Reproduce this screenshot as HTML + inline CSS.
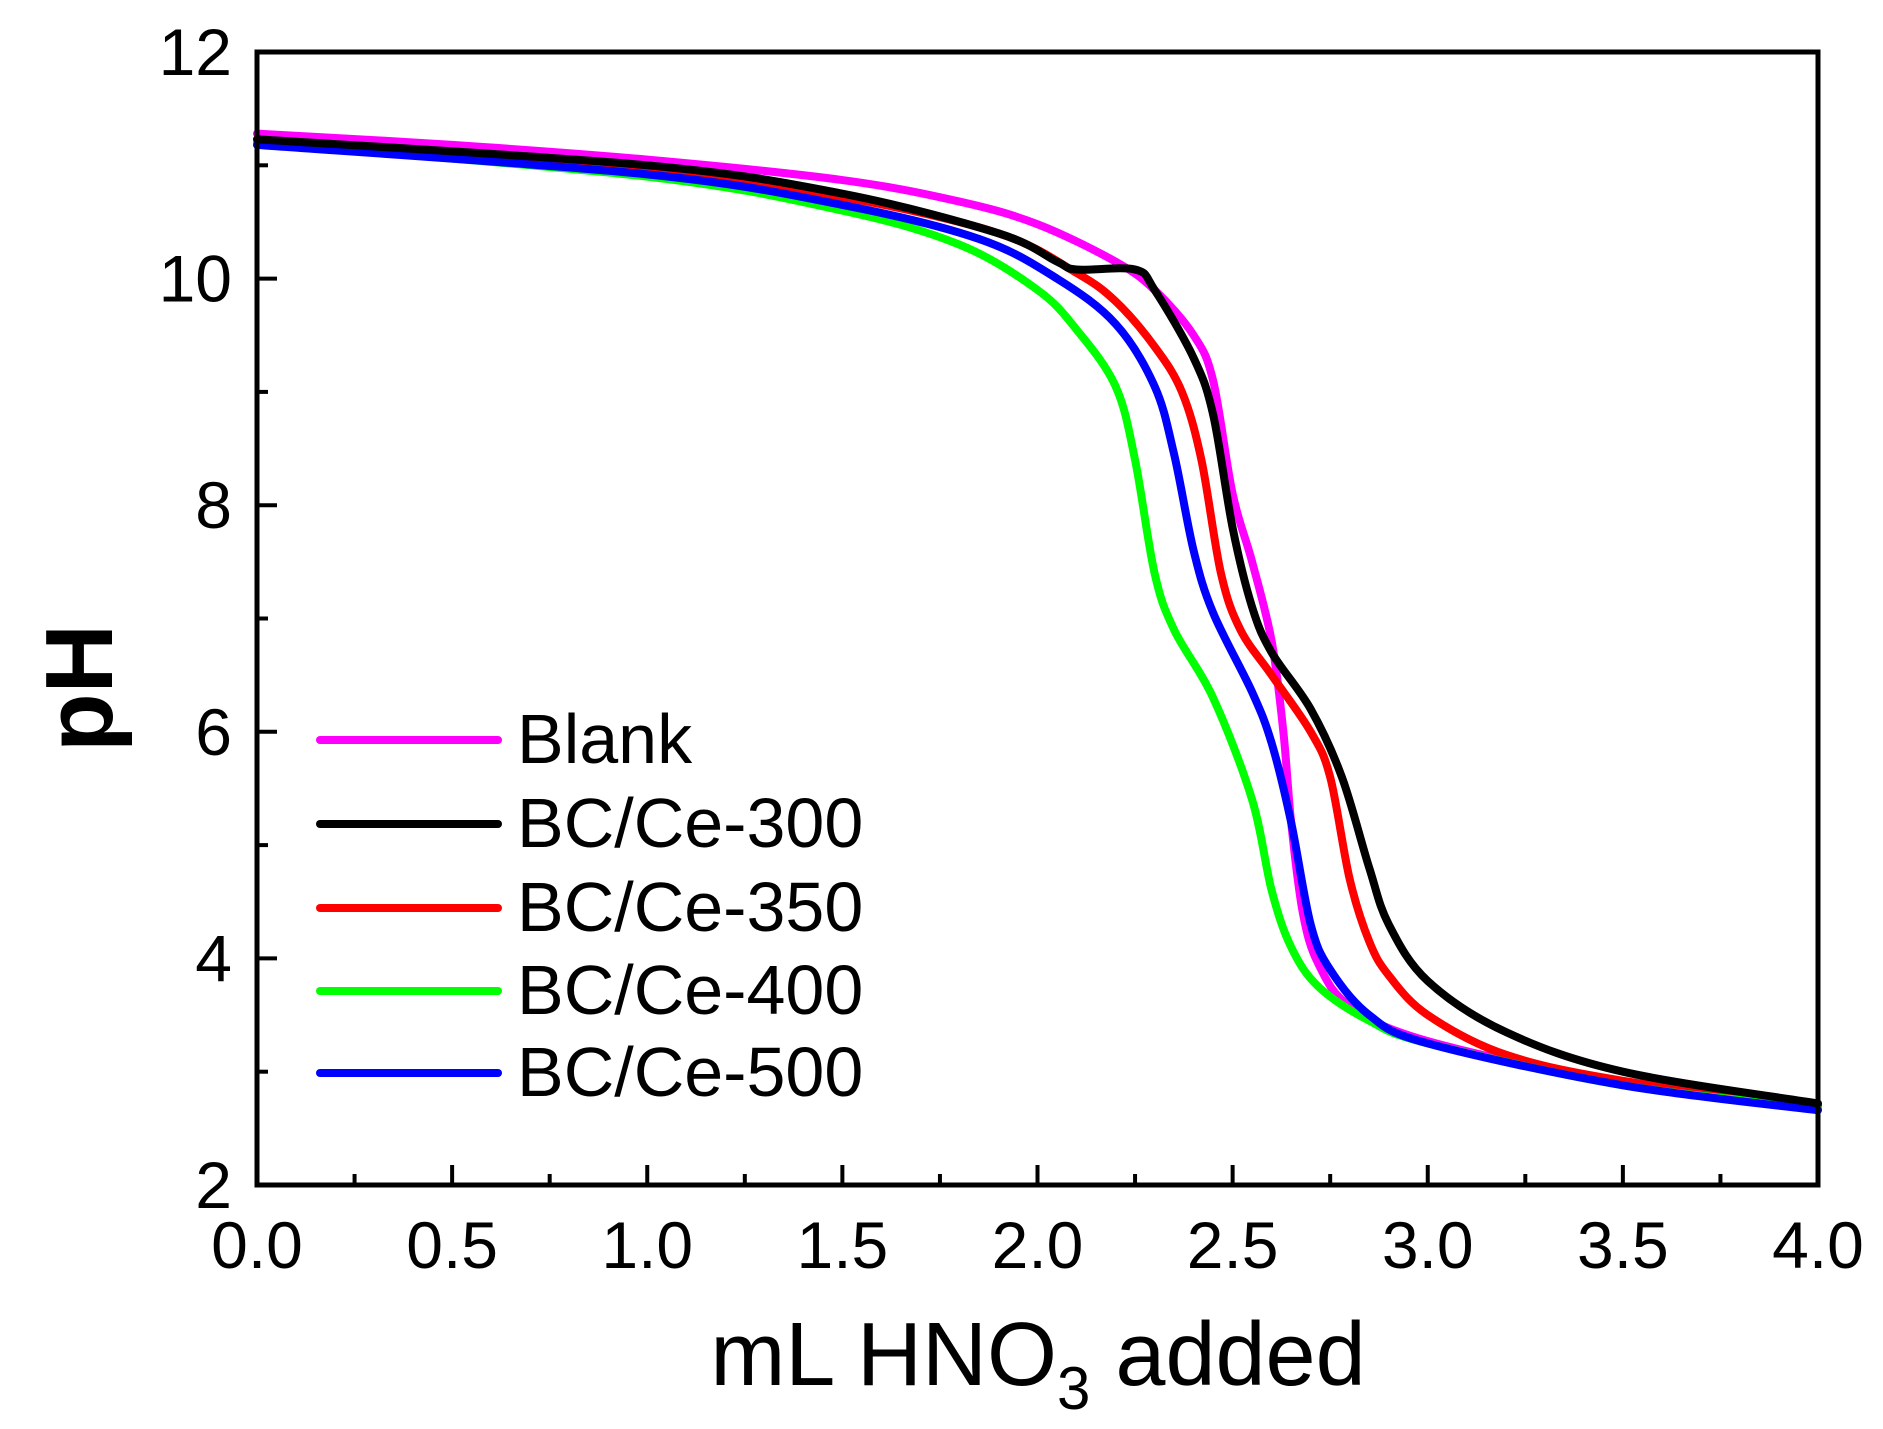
<!DOCTYPE html>
<html><head><meta charset="utf-8"><style>
html,body{margin:0;padding:0;background:#fff;}
svg{display:block;font-family:"Liberation Sans",Arial,sans-serif;}
</style></head><body>
<svg id="s" width="1883" height="1429" viewBox="0 0 1883 1429" xmlns="http://www.w3.org/2000/svg">
<g id="curves" fill="none" stroke-width="8" stroke-linejoin="round" stroke-linecap="round"></g>
<rect x="257" y="52" width="1561" height="1133" fill="none" stroke="#000" stroke-width="5"/>
<g id="ticks" stroke="#000" stroke-width="4"></g>
<g font-size="66" text-anchor="middle" id="xl"></g>
<g font-size="66" text-anchor="end" id="yl"></g>
<text x="1038" y="1385" font-size="90" text-anchor="middle">mL HNO<tspan font-size="60" dy="24">3</tspan><tspan dy="-24"> added</tspan></text>
<text transform="translate(112,688) rotate(-90)" font-size="96" font-weight="bold" text-anchor="middle">pH</text>
<g stroke-width="8" stroke-linecap="round">
<line x1="320" y1="740" x2="498" y2="740" stroke="#ff00ff"/>
<line x1="320" y1="824" x2="498" y2="824" stroke="#000"/>
<line x1="320" y1="908" x2="498" y2="908" stroke="#ff0000"/>
<line x1="320" y1="991" x2="498" y2="991" stroke="#00ff00"/>
<line x1="320" y1="1073" x2="498" y2="1073" stroke="#0000ff"/>
</g>
<g font-size="70">
<text x="517" y="763">Blank</text>
<text x="517" y="847">BC/Ce-300</text>
<text x="517" y="931">BC/Ce-350</text>
<text x="517" y="1014">BC/Ce-400</text>
<text x="517" y="1096">BC/Ce-500</text>
</g>
</svg>
<script>
var X=function(v){return 257+v*390.25}, Y=function(p){return 1185-(p-2)*113.3};
var ns="http://www.w3.org/2000/svg";
function el(n,a,p){var e=document.createElementNS(ns,n);for(var k in a)e.setAttribute(k,a[k]);p.appendChild(e);return e;}
var t=document.getElementById('ticks');
for(var i=0;i<=16;i++){var x=X(i*0.25),L=i%2?11:20;el('line',{x1:x,y1:1185,x2:x,y2:1185-L},t);}
for(var p=2;p<=12;p++){var y=Y(p),L=p%2?11:20;el('line',{x1:257,y1:y,x2:257+L,y2:y},t);}
var xl=document.getElementById('xl');
for(var i=0;i<=8;i++){var e=el('text',{x:X(i*0.5),y:1268},xl);e.textContent=(i*0.5).toFixed(1);}
var yl=document.getElementById('yl');
for(var p=2;p<=12;p+=2){var e=el('text',{x:232,y:Y(p)+23},yl);e.textContent=p;}
var D={
"#ff00ff":[[0,11.28],[0.5,11.18],[1,11.05],[1.5,10.87],[1.8,10.68],[2,10.48],[2.2,10.15],[2.3,9.9],[2.4,9.5],[2.45,9.1],[2.5,8.1],[2.55,7.5],[2.6,6.8],[2.63,6.0],[2.65,5.2],[2.68,4.4],[2.72,3.95],[2.8,3.58],[3,3.27],[3.5,2.9],[4,2.7]],
"#ff0000":[[0,11.2],[1,10.95],[1.5,10.72],[1.9,10.4],[2.1,10.05],[2.2,9.8],[2.3,9.4],[2.37,9.0],[2.42,8.4],[2.47,7.4],[2.52,6.9],[2.6,6.5],[2.7,6.0],[2.75,5.6],[2.8,4.7],[2.85,4.15],[2.9,3.85],[3,3.5],[3.2,3.15],[3.5,2.92],[4,2.7]],
"#00ff00":[[0,11.2],[1,10.9],[1.5,10.6],[1.8,10.3],[2,9.9],[2.1,9.55],[2.2,9.05],[2.25,8.4],[2.3,7.4],[2.35,6.9],[2.45,6.3],[2.55,5.4],[2.6,4.6],[2.65,4.1],[2.72,3.75],[2.85,3.45],[3,3.25],[3.5,2.88],[4,2.68]],
"#0000ff":[[0,11.18],[1,10.92],[1.5,10.65],[1.85,10.35],[2.05,10.0],[2.2,9.6],[2.3,9.05],[2.35,8.45],[2.4,7.6],[2.45,7.05],[2.55,6.35],[2.6,5.9],[2.65,5.2],[2.7,4.3],[2.75,3.9],[2.85,3.5],[3,3.25],[3.5,2.88],[4,2.66]],
"#000000":[[0,11.23],[1,11.0],[1.5,10.75],[1.9,10.4],[2.05,10.15],[2.1,10.08],[2.25,10.08],[2.3,9.9],[2.4,9.3],[2.45,8.8],[2.5,7.8],[2.55,7.1],[2.6,6.7],[2.7,6.2],[2.78,5.6],[2.85,4.8],[2.9,4.3],[3,3.8],[3.2,3.35],[3.5,3.0],[4,2.72]]
};
var g=document.getElementById('curves');
for(var c in D){var pts=D[c].map(function(q){return [X(q[0]),Y(q[1])];});
var d="M"+pts[0][0]+","+pts[0][1];
for(var i=0;i<pts.length-1;i++){var p0=pts[Math.max(0,i-1)],p1=pts[i],p2=pts[i+1],p3=pts[Math.min(pts.length-1,i+2)];
d+=" C"+(p1[0]+(p2[0]-p0[0])/6)+","+(p1[1]+(p2[1]-p0[1])/6)+" "+(p2[0]-(p3[0]-p1[0])/6)+","+(p2[1]-(p3[1]-p1[1])/6)+" "+p2[0]+","+p2[1];}
el('path',{d:d,stroke:c},g);}
</script>
</body></html>
